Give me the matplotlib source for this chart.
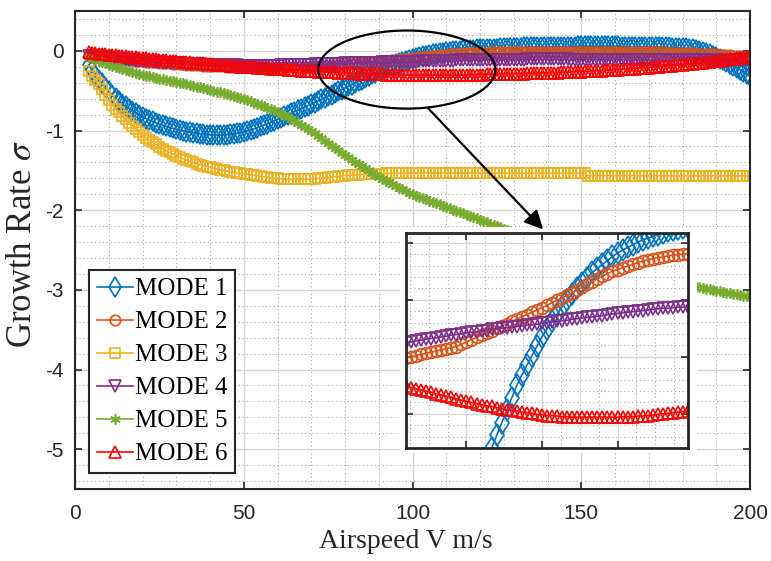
import numpy as np
import matplotlib
matplotlib.use("Agg")
import matplotlib.pyplot as plt
from matplotlib.patches import Ellipse, Rectangle
from matplotlib.ticker import MultipleLocator, AutoMinorLocator

plt.rcParams['font.family'] = ['Liberation Sans', 'DejaVu Sans']
plt.rcParams['mathtext.fontset'] = 'stix'
plt.rcParams['axes.unicode_minus'] = False

# airspeed sweep, 1 m/s steps
airspeed = np.arange(4, 201)

mode1 = [
    -0.180, -0.245, -0.310, -0.360, -0.410, -0.460, -0.510, -0.556, -0.597, -0.635,
    -0.670, -0.698, -0.724, -0.750, -0.776, -0.801, -0.826, -0.850, -0.869, -0.887,
    -0.904, -0.920, -0.935, -0.948, -0.960, -0.973, -0.984, -0.995, -1.004, -1.013,
    -1.021, -1.028, -1.035, -1.041, -1.046, -1.051, -1.055, -1.057, -1.058, -1.057,
    -1.055, -1.051, -1.046, -1.041, -1.035, -1.026, -1.016, -1.005, -0.993, -0.979,
    -0.965, -0.949, -0.932, -0.915, -0.897, -0.879, -0.860, -0.840, -0.820, -0.800,
    -0.782, -0.764, -0.745, -0.726, -0.708, -0.689, -0.670, -0.650, -0.630, -0.610,
    -0.590, -0.570, -0.549, -0.528, -0.507, -0.486, -0.465, -0.444, -0.423, -0.402,
    -0.381, -0.360, -0.338, -0.316, -0.294, -0.272, -0.250, -0.232, -0.215, -0.198,
    -0.181, -0.165, -0.151, -0.138, -0.125, -0.112, -0.100, -0.090, -0.080, -0.070,
    -0.061, -0.052, -0.045, -0.038, -0.031, -0.024, -0.018, -0.013, -0.008, -0.004,
    0.001, 0.005, 0.008, 0.011, 0.014, 0.017, 0.020, 0.022, 0.024, 0.026,
    0.028, 0.029, 0.031, 0.033, 0.035, 0.036, 0.038, 0.039, 0.041, 0.042,
    0.043, 0.044, 0.046, 0.047, 0.048, 0.049, 0.050, 0.050, 0.051, 0.052,
    0.052, 0.053, 0.053, 0.054, 0.054, 0.055, 0.055, 0.055, 0.056, 0.056,
    0.056, 0.056, 0.056, 0.056, 0.056, 0.055, 0.055, 0.055, 0.054, 0.054,
    0.053, 0.053, 0.052, 0.052, 0.051, 0.050, 0.050, 0.049, 0.048, 0.047,
    0.046, 0.044, 0.043, 0.041, 0.039, 0.037, 0.035, 0.031, 0.026, 0.021,
    0.015, 0.004, -0.009, -0.024, -0.040, -0.059, -0.078, -0.099, -0.120, -0.142,
    -0.165, -0.188, -0.210, -0.236, -0.263, -0.291, -0.320,
]

mode2 = [
    -0.060, -0.065, -0.070, -0.075, -0.080, -0.085, -0.090, -0.094, -0.098, -0.102,
    -0.106, -0.110, -0.114, -0.118, -0.122, -0.126, -0.130, -0.134, -0.137, -0.141,
    -0.144, -0.148, -0.151, -0.155, -0.158, -0.162, -0.165, -0.168, -0.170, -0.173,
    -0.175, -0.178, -0.180, -0.183, -0.185, -0.188, -0.190, -0.192, -0.193, -0.195,
    -0.196, -0.198, -0.199, -0.201, -0.202, -0.204, -0.205, -0.206, -0.207, -0.208,
    -0.208, -0.209, -0.209, -0.210, -0.210, -0.210, -0.210, -0.210, -0.209, -0.209,
    -0.208, -0.207, -0.206, -0.204, -0.202, -0.200, -0.198, -0.196, -0.194, -0.192,
    -0.190, -0.188, -0.186, -0.184, -0.182, -0.178, -0.174, -0.170, -0.166, -0.162,
    -0.158, -0.154, -0.150, -0.146, -0.142, -0.138, -0.134, -0.130, -0.126, -0.122,
    -0.118, -0.114, -0.110, -0.105, -0.101, -0.097, -0.092, -0.088, -0.083, -0.078,
    -0.073, -0.068, -0.063, -0.059, -0.054, -0.050, -0.047, -0.044, -0.041, -0.038,
    -0.035, -0.032, -0.030, -0.028, -0.026, -0.025, -0.023, -0.022, -0.021, -0.020,
    -0.019, -0.018, -0.017, -0.016, -0.015, -0.015, -0.014, -0.014, -0.013, -0.013,
    -0.012, -0.012, -0.012, -0.011, -0.011, -0.011, -0.011, -0.010, -0.010, -0.010,
    -0.010, -0.010, -0.010, -0.010, -0.010, -0.010, -0.010, -0.010, -0.010, -0.010,
    -0.011, -0.011, -0.011, -0.011, -0.012, -0.012, -0.012, -0.012, -0.013, -0.013,
    -0.013, -0.013, -0.014, -0.014, -0.015, -0.016, -0.016, -0.017, -0.018, -0.019,
    -0.020, -0.020, -0.021, -0.022, -0.023, -0.024, -0.025, -0.027, -0.029, -0.031,
    -0.033, -0.035, -0.037, -0.039, -0.041, -0.043, -0.045, -0.048, -0.051, -0.054,
    -0.058, -0.061, -0.065, -0.069, -0.072, -0.076, -0.080,
]

mode3 = [
    -0.250, -0.310, -0.365, -0.420, -0.485, -0.550, -0.620, -0.675, -0.725, -0.770,
    -0.818, -0.860, -0.900, -0.942, -0.980, -1.020, -1.057, -1.090, -1.120, -1.148,
    -1.175, -1.203, -1.230, -1.252, -1.274, -1.296, -1.318, -1.337, -1.354, -1.370,
    -1.386, -1.401, -1.415, -1.428, -1.440, -1.452, -1.464, -1.474, -1.484, -1.493,
    -1.502, -1.511, -1.519, -1.526, -1.533, -1.539, -1.545, -1.551, -1.556, -1.562,
    -1.568, -1.575, -1.581, -1.587, -1.592, -1.597, -1.601, -1.605, -1.608, -1.611,
    -1.613, -1.614, -1.614, -1.614, -1.613, -1.611, -1.608, -1.605, -1.601, -1.597,
    -1.593, -1.589, -1.585, -1.580, -1.575, -1.570, -1.566, -1.563, -1.560, -1.557,
    -1.554, -1.551, -1.549, -1.547, -1.545, -1.543, -1.541, -1.540, -1.539, -1.538,
    -1.537, -1.536, -1.535, -1.534, -1.534, -1.533, -1.533, -1.532, -1.532, -1.532,
    -1.532, -1.532, -1.532, -1.532, -1.532, -1.532, -1.532, -1.533, -1.533, -1.533,
    -1.533, -1.533, -1.533, -1.533, -1.534, -1.534, -1.534, -1.534, -1.534, -1.534,
    -1.534, -1.534, -1.534, -1.535, -1.535, -1.535, -1.535, -1.535, -1.535, -1.535,
    -1.535, -1.535, -1.535, -1.535, -1.535, -1.536, -1.536, -1.536, -1.536, -1.536,
    -1.536, -1.536, -1.537, -1.537, -1.537, -1.538, -1.538, -1.538, -1.566, -1.566,
    -1.566, -1.566, -1.566, -1.566, -1.566, -1.567, -1.567, -1.567, -1.567, -1.567,
    -1.567, -1.567, -1.567, -1.567, -1.567, -1.568, -1.568, -1.568, -1.568, -1.568,
    -1.568, -1.568, -1.568, -1.568, -1.568, -1.569, -1.569, -1.569, -1.569, -1.569,
    -1.569, -1.569, -1.569, -1.569, -1.569, -1.570, -1.570, -1.570, -1.570, -1.570,
    -1.570, -1.570, -1.570, -1.570, -1.570, -1.570, -1.570,
]

mode4 = [
    -0.060, -0.066, -0.071, -0.076, -0.081, -0.086, -0.090, -0.095, -0.099, -0.103,
    -0.107, -0.111, -0.115, -0.119, -0.122, -0.126, -0.130, -0.133, -0.136, -0.139,
    -0.142, -0.145, -0.147, -0.150, -0.152, -0.155, -0.157, -0.159, -0.161, -0.163,
    -0.165, -0.167, -0.169, -0.171, -0.172, -0.174, -0.175, -0.177, -0.178, -0.179,
    -0.180, -0.181, -0.182, -0.183, -0.184, -0.185, -0.186, -0.186, -0.187, -0.187,
    -0.187, -0.187, -0.187, -0.187, -0.186, -0.186, -0.185, -0.184, -0.183, -0.182,
    -0.181, -0.179, -0.178, -0.177, -0.175, -0.174, -0.172, -0.171, -0.169, -0.168,
    -0.167, -0.165, -0.164, -0.162, -0.161, -0.160, -0.158, -0.157, -0.156, -0.155,
    -0.154, -0.152, -0.151, -0.150, -0.149, -0.148, -0.147, -0.146, -0.145, -0.144,
    -0.143, -0.141, -0.140, -0.139, -0.138, -0.137, -0.136, -0.134, -0.133, -0.132,
    -0.131, -0.130, -0.129, -0.128, -0.126, -0.125, -0.124, -0.123, -0.122, -0.121,
    -0.120, -0.119, -0.118, -0.117, -0.116, -0.115, -0.115, -0.114, -0.113, -0.113,
    -0.112, -0.111, -0.111, -0.110, -0.110, -0.110, -0.109, -0.109, -0.109, -0.109,
    -0.108, -0.108, -0.108, -0.108, -0.108, -0.108, -0.108, -0.108, -0.108, -0.108,
    -0.108, -0.108, -0.108, -0.109, -0.109, -0.109, -0.109, -0.109, -0.110, -0.110,
    -0.110, -0.110, -0.110, -0.111, -0.111, -0.111, -0.111, -0.112, -0.112, -0.112,
    -0.112, -0.113, -0.113, -0.113, -0.113, -0.114, -0.114, -0.114, -0.114, -0.115,
    -0.115, -0.115, -0.115, -0.116, -0.116, -0.116, -0.116, -0.117, -0.117, -0.117,
    -0.117, -0.118, -0.118, -0.118, -0.118, -0.119, -0.119, -0.119, -0.119, -0.119,
    -0.120, -0.120, -0.120, -0.120, -0.120, -0.120, -0.120,
]

mode5 = [
    -0.080, -0.095, -0.110, -0.125, -0.140, -0.158, -0.177, -0.195, -0.207, -0.218,
    -0.229, -0.240, -0.250, -0.263, -0.275, -0.288, -0.300, -0.310, -0.320, -0.330,
    -0.340, -0.350, -0.358, -0.366, -0.374, -0.382, -0.390, -0.400, -0.410, -0.420,
    -0.430, -0.440, -0.450, -0.460, -0.470, -0.480, -0.490, -0.501, -0.512, -0.523,
    -0.534, -0.545, -0.557, -0.569, -0.581, -0.593, -0.605, -0.620, -0.635, -0.650,
    -0.665, -0.680, -0.697, -0.714, -0.731, -0.748, -0.765, -0.787, -0.809, -0.831,
    -0.853, -0.875, -0.901, -0.927, -0.953, -0.979, -1.005, -1.036, -1.067, -1.098,
    -1.129, -1.160, -1.190, -1.220, -1.250, -1.280, -1.310, -1.338, -1.366, -1.394,
    -1.422, -1.450, -1.476, -1.502, -1.528, -1.554, -1.580, -1.604, -1.628, -1.652,
    -1.676, -1.700, -1.720, -1.740, -1.760, -1.780, -1.800, -1.816, -1.832, -1.848,
    -1.864, -1.880, -1.896, -1.912, -1.928, -1.944, -1.960, -1.976, -1.992, -2.008,
    -2.024, -2.040, -2.056, -2.072, -2.088, -2.104, -2.120, -2.136, -2.152, -2.168,
    -2.184, -2.200, -2.216, -2.232, -2.248, -2.264, -2.280, -2.295, -2.310, -2.325,
    -2.340, -2.355, -2.370, -2.385, -2.400, -2.415, -2.430, -2.444, -2.458, -2.472,
    -2.486, -2.500, -2.514, -2.528, -2.542, -2.556, -2.570, -2.583, -2.596, -2.609,
    -2.622, -2.635, -2.648, -2.661, -2.674, -2.687, -2.700, -2.712, -2.724, -2.736,
    -2.748, -2.760, -2.772, -2.784, -2.796, -2.808, -2.820, -2.831, -2.841, -2.852,
    -2.862, -2.873, -2.883, -2.894, -2.904, -2.915, -2.925, -2.934, -2.942, -2.951,
    -2.959, -2.968, -2.976, -2.985, -2.993, -3.002, -3.010, -3.018, -3.026, -3.034,
    -3.042, -3.050, -3.058, -3.066, -3.074, -3.082, -3.090,
]

mode6 = [
    -0.020, -0.025, -0.030, -0.035, -0.040, -0.045, -0.050, -0.054, -0.058, -0.062,
    -0.066, -0.070, -0.074, -0.078, -0.082, -0.086, -0.090, -0.094, -0.098, -0.102,
    -0.106, -0.110, -0.114, -0.118, -0.122, -0.126, -0.130, -0.134, -0.137, -0.141,
    -0.144, -0.148, -0.151, -0.155, -0.158, -0.162, -0.165, -0.169, -0.172, -0.176,
    -0.179, -0.183, -0.186, -0.190, -0.193, -0.197, -0.200, -0.203, -0.206, -0.208,
    -0.211, -0.214, -0.217, -0.220, -0.222, -0.225, -0.228, -0.231, -0.234, -0.237,
    -0.240, -0.243, -0.246, -0.249, -0.252, -0.254, -0.256, -0.258, -0.260, -0.262,
    -0.265, -0.267, -0.269, -0.271, -0.274, -0.276, -0.278, -0.280, -0.282, -0.284,
    -0.286, -0.287, -0.289, -0.291, -0.293, -0.294, -0.295, -0.297, -0.298, -0.299,
    -0.301, -0.302, -0.303, -0.303, -0.304, -0.305, -0.305, -0.306, -0.306, -0.306,
    -0.306, -0.306, -0.306, -0.306, -0.306, -0.306, -0.306, -0.305, -0.305, -0.305,
    -0.304, -0.304, -0.303, -0.302, -0.301, -0.300, -0.299, -0.298, -0.297, -0.296,
    -0.295, -0.294, -0.293, -0.291, -0.290, -0.289, -0.288, -0.287, -0.286, -0.285,
    -0.284, -0.282, -0.281, -0.280, -0.279, -0.277, -0.276, -0.275, -0.273, -0.272,
    -0.270, -0.269, -0.267, -0.265, -0.263, -0.262, -0.260, -0.258, -0.256, -0.254,
    -0.252, -0.250, -0.247, -0.245, -0.243, -0.240, -0.238, -0.235, -0.233, -0.230,
    -0.227, -0.225, -0.222, -0.219, -0.216, -0.213, -0.210, -0.207, -0.203, -0.200,
    -0.196, -0.193, -0.189, -0.186, -0.182, -0.179, -0.175, -0.170, -0.166, -0.161,
    -0.156, -0.152, -0.147, -0.142, -0.137, -0.133, -0.128, -0.122, -0.116, -0.110,
    -0.105, -0.099, -0.093, -0.087, -0.082, -0.076, -0.070,
]

mode_names = ['MODE 1', 'MODE 2', 'MODE 3', 'MODE 4', 'MODE 5', 'MODE 6']
mode_values = [mode1, mode2, mode3, mode4, mode5, mode6]
colors = ['#0072BD', '#D95319', '#EDB120', '#7E2F8E', '#77AC30', '#FF0000']
markers = ['d', 'o', 's', 'v', (6, 2, 0), '^']
msizes = [10.5, 7.5, 6.5, 8.0, 7.5, 8.0]

# region that gets blown up in the inset
zoom_center = (98.3, -0.235)
zoom_w, zoom_h = 52.5, 0.98
inset_xlim = (68, 124)
inset_ylim = (-0.36, 0.017)

SERIF = ['Liberation Serif', 'DejaVu Serif']
DARK = '#262626'


def style_axes(a, lw):
    for s in a.spines.values():
        s.set_color(DARK)
        s.set_linewidth(lw)
    a.grid(True, which='major', color='#d6d6d6', lw=1.0, ls='-')
    a.grid(True, which='minor', color='#a8a8a8', lw=0.8, ls=(0, (1, 2.5)))
    a.set_axisbelow(True)
    a.tick_params(which='both', direction='in', top=True, right=True, color=DARK)
    a.tick_params(which='major', length=5, width=1.2)
    a.tick_params(which='minor', length=0)


fig = plt.figure(figsize=(7.71, 5.61), dpi=100)
ax = fig.add_axes([0.0973, 0.1283, 0.8755, 0.8521])

for vals, name, c, m, ms in zip(mode_values, mode_names, colors, markers, msizes):
    ax.plot(airspeed, vals, color=c, marker=m, mfc='none', mec=c, ms=ms,
            mew=1.2, lw=1.2, label=name)

ax.set_xlim(0, 200)
ax.set_ylim(-5.5, 0.5)
ax.xaxis.set_major_locator(MultipleLocator(50))
ax.xaxis.set_minor_locator(MultipleLocator(10))
ax.yaxis.set_major_locator(MultipleLocator(1))
ax.yaxis.set_minor_locator(MultipleLocator(0.2))
style_axes(ax, 1.5)
ax.tick_params(axis='x', labelsize=15, pad=11, labelcolor=DARK)
ax.tick_params(axis='y', labelsize=15, pad=8, labelcolor=DARK)

ax.set_xlabel('Airspeed V m/s', fontsize=20, family=SERIF, color=DARK)
ax.xaxis.set_label_coords(0.49, -0.083)
ax.set_ylabel(r'Growth Rate $\sigma$', fontsize=25, family=SERIF, color=DARK)
ax.yaxis.set_label_coords(-0.054, 0.513)

leg = ax.legend(loc='lower left', bbox_to_anchor=(0.021, 0.034), borderaxespad=0,
                prop={'family': SERIF, 'size': 18}, fancybox=False, framealpha=1,
                edgecolor=DARK, handlelength=1.45, handletextpad=0.08,
                labelspacing=0.42, borderpad=0.3)
leg.get_frame().set_linewidth(1.5)

# white margin round the inset, ellipse and arrow pointing at it
ax.add_patch(Rectangle((0.4815, 0.075), 0.44, 0.473, transform=ax.transAxes,
                       facecolor='white', edgecolor='none', zorder=4))
ax.add_patch(Ellipse(zoom_center, zoom_w, zoom_h, facecolor='none',
                     edgecolor='black', lw=1.6, zorder=5))
ax.annotate('', xy=(138.7, -2.24), xytext=(104.6, -0.72),
            arrowprops=dict(arrowstyle='-|>', color='black', lw=1.6,
                            mutation_scale=28, shrinkA=0, shrinkB=0),
            zorder=6)

ins = fig.add_axes([0.5266, 0.2014, 0.3658, 0.3832])
for vals, c, m, ms in zip(mode_values, colors, markers, msizes):
    ins.plot(airspeed, vals, color=c, marker=m, mfc='none', mec=c, ms=ms + 1.0,
             mew=1.2, lw=1.2)
ins.set_xlim(*inset_xlim)
ins.set_ylim(*inset_ylim)
ins.set_xticks([80, 95, 110])
ins.set_yticks([-0.3, -0.2, -0.1, 0.0])
ins.xaxis.set_minor_locator(AutoMinorLocator(4))
ins.yaxis.set_minor_locator(AutoMinorLocator(5))
style_axes(ins, 2.0)
ins.tick_params(labelbottom=False, labelleft=False)

fig.savefig('out.png', dpi=100)
